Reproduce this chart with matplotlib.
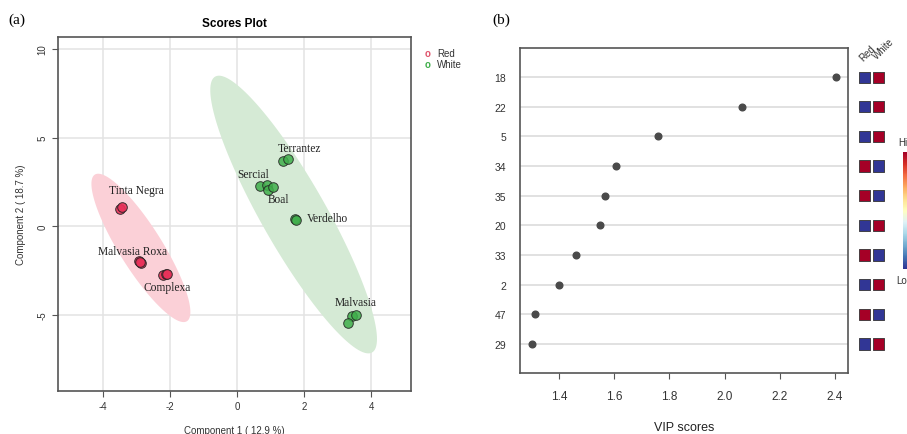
import numpy as np
import matplotlib
matplotlib.use("Agg")
import matplotlib.pyplot as plt
from matplotlib.colors import Normalize

plt.rcParams['font.family'] = ['Liberation Sans', 'DejaVu Sans']
plt.rcParams['axes.unicode_minus'] = False

# scores plot data (component 1, component 2)
red_x = [-3.49, -3.44, -2.92, -2.85, -2.88, -2.20, -2.12, -2.08]
red_y = [0.99, 1.11, -1.95, -2.04, -2.00, -2.74, -2.70, -2.66]
white_x = [1.38, 1.53, 0.69, 0.89, 0.93, 1.07, 1.73, 1.76, 3.42, 3.55, 3.32]
white_y = [3.67, 3.80, 2.25, 2.36, 2.08, 2.23, 0.43, 0.34, -5.04, -5.00, -5.45]
sample_names = ["Tinta Negra", "Malvasia Roxa", "Complexa",
                "Terrantez", "Sercial", "Boal", "Verdelho", "Malvasia"]

# VIP scores data
features = ["18", "22", "5", "34", "35", "20", "33", "2", "47", "29"]
vip = [2.402, 2.064, 1.757, 1.606, 1.566, 1.548, 1.460, 1.401, 1.314, 1.302]
red_level = [0, 0, 0, 1, 1, 0, 1, 0, 1, 0]
white_level = [1, 1, 1, 0, 0, 1, 0, 1, 0, 1]

fig = plt.figure(figsize=(9.07, 4.35), dpi=100)

# ---------------- (a) scores plot ----------------
ax = fig.add_axes([0.0639, 0.0989, 0.3892, 0.8137])
ax.set_xlim(-5.34, 5.19)
ax.set_ylim(-9.27, 10.67)
ax.set_xticks([-4, -2, 0, 2, 4])
ax.set_yticks([-5, 0, 5, 10])
ax.grid(True, color="#e3e3e3", lw=1.1)
ax.set_axisbelow(True)

# confidence ellipses: center, semi-major vector, semi-minor vector (data units)
t = np.linspace(0, 2 * np.pi, 200)
ellipses = [((-2.866, -1.21), (1.373, -4.13), (0.541, 0.64), "#fbd0d7"),
            ((1.69, 0.67), (2.34, -7.77), (0.84, 0.90), "#d5ead5")]
for (cx, cy), (ax_, ay_), (bx_, by_), col in ellipses:
    ex = cx + ax_ * np.cos(t) + bx_ * np.sin(t)
    ey = cy + ay_ * np.cos(t) + by_ * np.sin(t)
    ax.fill(ex, ey, color=col, lw=0, zorder=1)

ax.scatter(red_x, red_y, s=48, c="#e8325a", edgecolors="#222222", lw=0.7, zorder=3, alpha=0.9)
ax.scatter(white_x, white_y, s=48, c="#3fae4a", edgecolors="#222222", lw=0.7, zorder=3, alpha=0.85)

label_pos = [(-3.01, 2.08), (-3.10, -1.40), (-2.09, -3.43), (1.88, 4.44),
             (0.48, 2.98), (1.25, 1.52), (2.69, 0.45), (3.55, -4.27)]
for name, (lx, ly) in zip(sample_names, label_pos):
    ax.text(lx, ly, name, ha="center", va="center", fontsize=8.3,
            family="Liberation Serif", color="#222222", zorder=4)

ax.tick_params(labelsize=7, length=4, color="#555555", labelcolor="#333333")
for lab in ax.get_yticklabels():
    lab.set_rotation(90)
    lab.set_va("center")
for s in ax.spines.values():
    s.set_color("#555555")
    s.set_linewidth(1.2)
ax.set_xlabel("Component 1 ( 12.9 %)", fontsize=7, color="#333333", labelpad=10)
ax.set_ylabel("Component 2 ( 18.7 %)", fontsize=7, color="#333333", labelpad=8)
ax.set_title("Scores Plot", fontsize=8.5, fontweight="bold", pad=8)

# legend
fig.text(0.471, 0.876, "o", color="#df536b", fontsize=7, ha="center", va="center", fontweight="bold")
fig.text(0.482, 0.876, "Red", fontsize=7, va="center", color="#333333")
fig.text(0.471, 0.851, "o", color="#3fae4a", fontsize=7, ha="center", va="center", fontweight="bold")
fig.text(0.482, 0.851, "White", fontsize=7, va="center", color="#333333")

fig.text(0.009, 0.953, "(a)", fontsize=11, family="Liberation Serif", va="center")
fig.text(0.543, 0.953, "(b)", fontsize=11, family="Liberation Serif", va="center")

# ---------------- (b) VIP scores ----------------
bx = fig.add_axes([0.5733, 0.1402, 0.3616, 0.7471])
pos = np.arange(1, len(features) + 1)
for p in pos:
    bx.axhline(p, color="#dcdcdc", lw=1.2, zorder=1)
bx.plot(vip, pos, "o", color="#4a4a4a", ms=4.8, zorder=3)
bx.set_xlim(1.258, 2.447)
bx.set_ylim(10.98, 0.02)
bx.set_yticks(pos)
bx.set_yticklabels(features)
bx.set_xticks([1.4, 1.6, 1.8, 2.0, 2.2, 2.4])
bx.set_xticklabels(["1.4", "1.6", "1.8", "2.0", "2.2", "2.4"])
bx.tick_params(axis="y", length=0, labelsize=7.5, pad=10, labelcolor="#333333")
bx.tick_params(axis="x", length=4, labelsize=8.5, pad=8, color="#555555", labelcolor="#333333")
for s in bx.spines.values():
    s.set_color("#555555")
    s.set_linewidth(1.2)
bx.set_xlabel("VIP scores", fontsize=9, labelpad=14, color="#222222")

# heat squares
hx = fig.add_axes([857 / 907, 0.1402, 29 / 907, 0.7471])
hx.set_xlim(-0.5, 1.5)
hx.set_ylim(10.98, 0.02)
hx.axis("off")
cmap = plt.get_cmap("RdYlBu_r")
norm = Normalize(0, 1)
hx.scatter(np.zeros(len(pos)), pos, marker="s", s=64, c=cmap(norm(red_level)),
           edgecolors="#333333", lw=0.6)
hx.scatter(np.ones(len(pos)), pos, marker="s", s=64, c=cmap(norm(white_level)),
           edgecolors="#333333", lw=0.6)
hx.text(0.0, 0.5, "Red", rotation=45, rotation_mode="anchor", ha="left", va="bottom",
        fontsize=7, color="#333333")
hx.text(0.95, 0.45, "White", rotation=45, rotation_mode="anchor", ha="left", va="bottom",
        fontsize=7, color="#333333")

# colour key (cut by the right edge)
cx = fig.add_axes([903 / 907, 1 - 270 / 435, 10 / 907, 117 / 435])
cx.imshow(np.linspace(1, 0, 100).reshape(-1, 1), aspect="auto", cmap=cmap)
cx.axis("off")
fig.text(898 / 907, 1 - 143 / 435, "Hi", fontsize=7, va="center", color="#333333")
fig.text(896 / 907, 1 - 281 / 435, "Lo", fontsize=7, va="center", color="#333333")

fig.savefig("out.png", dpi=100)
